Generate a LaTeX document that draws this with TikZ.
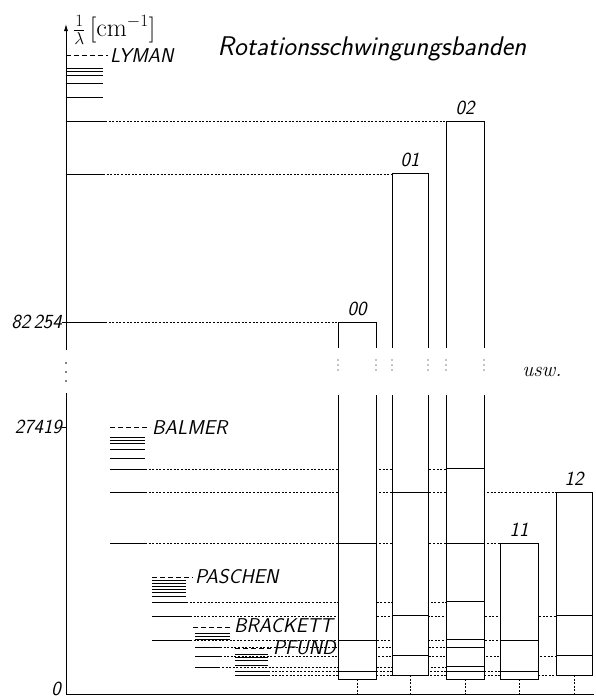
\documentclass[tikz,border=0pt]{standalone}
\usepackage{tikz}
\usetikzlibrary{arrows.meta,positioning}

\begin{document}
\begin{tikzpicture}[x=1pt, y=-1pt,
  axis/.style={line width=0.8pt},
  lvl/.style={line width=0.9pt},
  lim/.style={line width=0.8pt, dash pattern=on 5pt off 3pt},
  dots/.style={line width=0.8pt, dash pattern=on 2pt off 1.6pt},
  band/.style={line width=0.9pt},
  lbl/.style={font=\fontsize{20}{20}\selectfont\sffamily\itshape, inner sep=0pt},
  num/.style={font=\fontsize{20}{20}\selectfont\sffamily\itshape, inner sep=0pt}
]
\useasboundingbox (0,0) rectangle (595,699);

% axes
\draw[axis, -{Latex[length=7pt, width=4pt]}] (66,350) -- (66,24);
\draw[axis] (66,694) -- (66,393);
\foreach \y in {363,372,381} \fill (66,\y) circle (0.9pt);
\draw[axis] (66,694) -- (594,694);
\node[num, anchor=base east] (zero) at (61,695) {0};
\node[num, anchor=east] (t82) at (62,322) {82\,254};
\node[num, anchor=east] (t27) at (62,427) {27419};
\draw[axis] (62,322) -- (66,322);
\draw[axis] (62,427) -- (66,427);
\node[anchor=base west, inner sep=0pt, font=\fontsize{26}{26}\selectfont] (unit) at (73,36)
  {$\frac{1}{\lambda}$\,[cm$^{-1}$]};

% dotted connections (drawn below the bands)
\foreach \xa/\y/\xb in {105/121/446, 103/174/392, 105/322/338,
    145/469/446, 145/492/556, 145/543/500,
    186/602/446, 190/616/556, 190/640/500,
    220/647/446, 220/656/556, 222/667/446,
    268/671/500, 268/675/556}
  \draw[dots] (\xa,\y) -- (\xb,\y);

% Lyman
\draw[lim] (66,55) -- (108,55);
\node[lbl, anchor=west] (lyman) at (110,56) {LYMAN};
\foreach \y in {68,71,75,83,97} \draw[lvl] (66,\y) -- (103,\y);
\foreach \y in {121,174,322} \draw[lvl] (66,\y) -- (105,\y);

% Balmer
\draw[lim] (110,427) -- (150,427);
\node[lbl, anchor=west] (balmer) at (152,428) {BALMER};
\foreach \y in {437,440,443,449,458,469,492,543} \draw[lvl] (110,\y) -- (145,\y);

% Paschen
\draw[lim] (152,577) -- (193,577);
\node[lbl, anchor=west] (paschen) at (195,577) {PASCHEN};
\foreach \y in {580,583,586,589,592,596,602} \draw[lvl] (152,\y) -- (186,\y);
\foreach \y in {616,640} \draw[lvl] (152,\y) -- (190,\y);

% Brackett
\draw[lim] (193,627) -- (232,627);
\node[lbl, anchor=west] (brackett) at (234,626) {BRACKETT};
\foreach \y in {633,636,639} \draw[lvl] (195,\y) -- (230,\y);
\foreach \y in {647,656,667} \draw[lvl] (195,\y) -- (220,\y);

% Pfund
\draw[lim] (235,648) -- (271,648);
\node[lbl, anchor=west] (pfund) at (273,648) {PFUND};
\foreach \y in {654,657,660,665,671,675} \draw[lvl] (235,\y) -- (268,\y);

% bands
\foreach \xl/\xr/\yt/\yb in {338/376/322/679, 392/428/173/675, 446/484/121/679}{
  \fill[white] (\xl,\yt) rectangle (\xr,\yb);
  \draw[band] (\xl,348) -- (\xl,\yt) -- (\xr,\yt) -- (\xr,348);
  \draw[band] (\xl,395) -- (\xl,\yb) -- (\xr,\yb) -- (\xr,395);
  \foreach \x in {\xl,\xr} \foreach \y in {360,365,370} \fill (\x,\y) circle (0.6pt);
}
\foreach \xl/\xr/\yt/\yb in {500/538/543/679, 556/592/492/675}
  \draw[band, fill=white] (\xl,\yt) rectangle (\xr,\yb);
\foreach \xl/\xr/\y in {338/376/543, 338/376/640, 338/376/671,
    392/428/492, 392/428/615, 392/428/655,
    446/484/468, 446/484/543, 446/484/601, 446/484/639, 446/484/647, 446/484/666, 446/484/671,
    500/538/640, 500/538/671,
    556/592/615, 556/592/655}
  \draw[band] (\xl,\y) -- (\xr,\y);
\foreach \x/\y in {357/679, 410/675, 465/679, 519/679, 574/675}
  \draw[dots] (\x,\y) -- (\x,694);

\node[lbl, anchor=south] (b00) at (357,316) {00};
\node[lbl, anchor=south] (b01) at (410,167) {01};
\node[lbl, anchor=south] (b02) at (465,115) {02};
\node[lbl, anchor=south] (b11) at (519,537) {11};
\node[lbl, anchor=south] (b12) at (574,486) {12};

\node[font=\fontsize{27}{27}\selectfont\sffamily\itshape, inner sep=0pt] (title) at (372,49)
  {Rotationsschwingungsbanden};
\node[font=\fontsize{21}{21}\selectfont\itshape, inner sep=0pt] (usw) at (542,372) {usw.};
\end{tikzpicture}
\end{document}
